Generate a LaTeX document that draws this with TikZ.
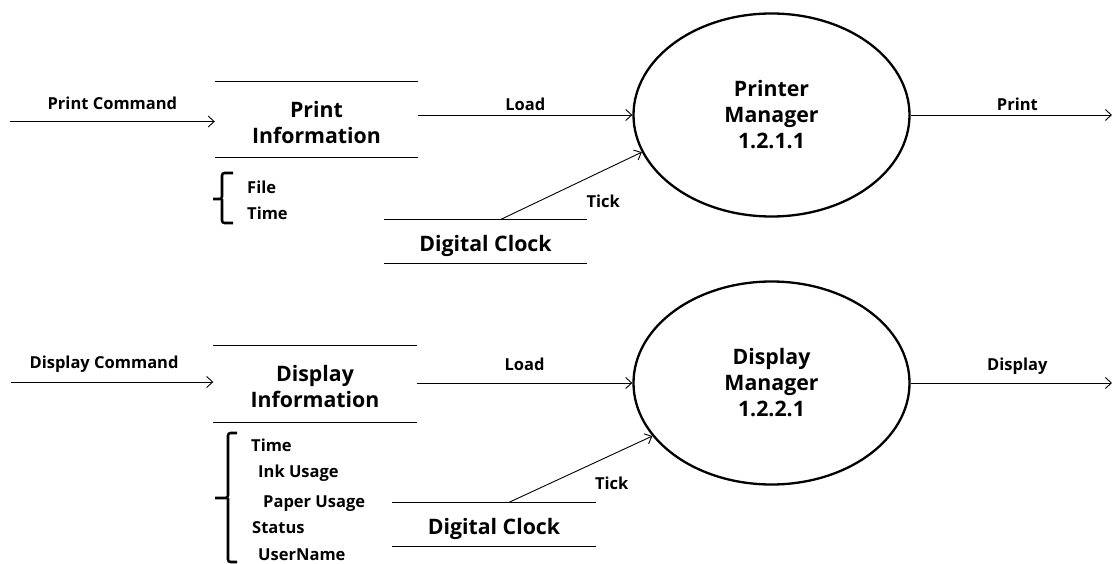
\documentclass[tikz,border=0pt]{standalone}
\usepackage{fontspec}
\setmainfont{Open Sans}
\usetikzlibrary{shapes.geometric,arrows.meta,positioning}

\begin{document}
\begin{tikzpicture}
  [x=1pt,y=-1pt,auto=left,
   every node/.style={font=\bfseries\fontsize{16.5}{19}\selectfont},
   lbl/.style={inner sep=0pt},
   big/.style={font=\bfseries\fontsize{21.3}{26}\selectfont,align=center},
   proc/.style={big,ellipse,draw,line width=2.3pt,minimum width=276pt,minimum height=203pt,inner sep=0pt},
   store/.style={big,minimum width=203pt,inner sep=0pt},
   info/.style={store,minimum height=76pt},
   clk/.style={store,text height=20pt,text depth=0pt,minimum height=43pt},
   item/.style={inner sep=0pt,anchor=base west},
   flow/.style={-{Straight Barb[length=6pt,width=11pt]},line width=0.9pt},
   brk/.style={line width=2.6pt,rounded corners=2.5pt}]
  \useasboundingbox (0,0) rectangle (1114,564);

  % print part
  \node[info] (pinfo) at (316.5,119.5) {\rule{0pt}{22pt}Print\\Information};
  \node[proc] (pm) at (771.5,115) {Printer\\Manager\\1.2.1.1};
  \node[clk] (pclk) at (485.5,241.5) {Digital Clock};
  \node[item] (pf1) at (247,194) {File};
  \node[item] (pf2) at (247,220) {Time};
  \coordinate (pin) at (10,121.5);
  \coordinate (pout) at (1112,115);
  \coordinate (ptk) at ([xshift=14.5pt]pclk.north);

  % display part
  \node[info] (dinfo) at (315,384) {\rule{0pt}{22pt}Display\\Information};
  \node[proc] (dm) at (771.5,383) {Display\\Manager\\1.2.2.1};
  \node[clk] (dclk) at (494,524.5) {Digital Clock};
  \node[item] (df1) at (251,451) {Time};
  \node[item] (df2) at (258,477) {Ink Usage};
  \node[item] (df3) at (263,507) {Paper Usage};
  \node[item] (df4) at (252,533) {Status};
  \node[item] (df5) at (258,560) {UserName};
  \coordinate (din) at (11,382);
  \coordinate (dout) at (1112,383);
  \coordinate (dtk) at ([xshift=14pt]dclk.north);

  \foreach \n in {pinfo,pclk,dinfo,dclk}
    \draw[line width=1pt] (\n.north west) -- (\n.north east) (\n.south west) -- (\n.south east);

  \draw[flow] (pin) -- node[lbl,above=11.5pt]{Print Command} (pin -| pinfo.west);
  \draw[flow] (pinfo.east |- pm.west) -- node[lbl,above=4pt]{Load} (pm.west);
  \draw[flow] (pm.east) -- node[lbl,pos=.53,above=4pt]{Print} (pout);
  \draw[flow] (ptk) -- node[lbl,pos=.6,below right=15pt and 1pt]{Tick} (pm.196);

  \draw[flow] (din) -- node[lbl,pos=.46,above=9pt]{Display Command} (din -| dinfo.west);
  \draw[flow] (dinfo.east |- dm.west) -- node[lbl,above=12pt]{Load} (dm.west);
  \draw[flow] (dm.east) -- node[lbl,pos=.53,above=8pt]{Display} (dout);
  \draw[flow] (dtk) -- node[lbl,pos=.6,below right=14pt and 0pt]{Tick} (dm.204);

  % brackets
  \draw[brk] (233,173) -| (222,199) -- (213,199) (222,199) |- (233,223);
  \draw[brk] (237,433) -| (228,498) -- (215,498) (228,498) |- (237,562);

\end{tikzpicture}
\end{document}
